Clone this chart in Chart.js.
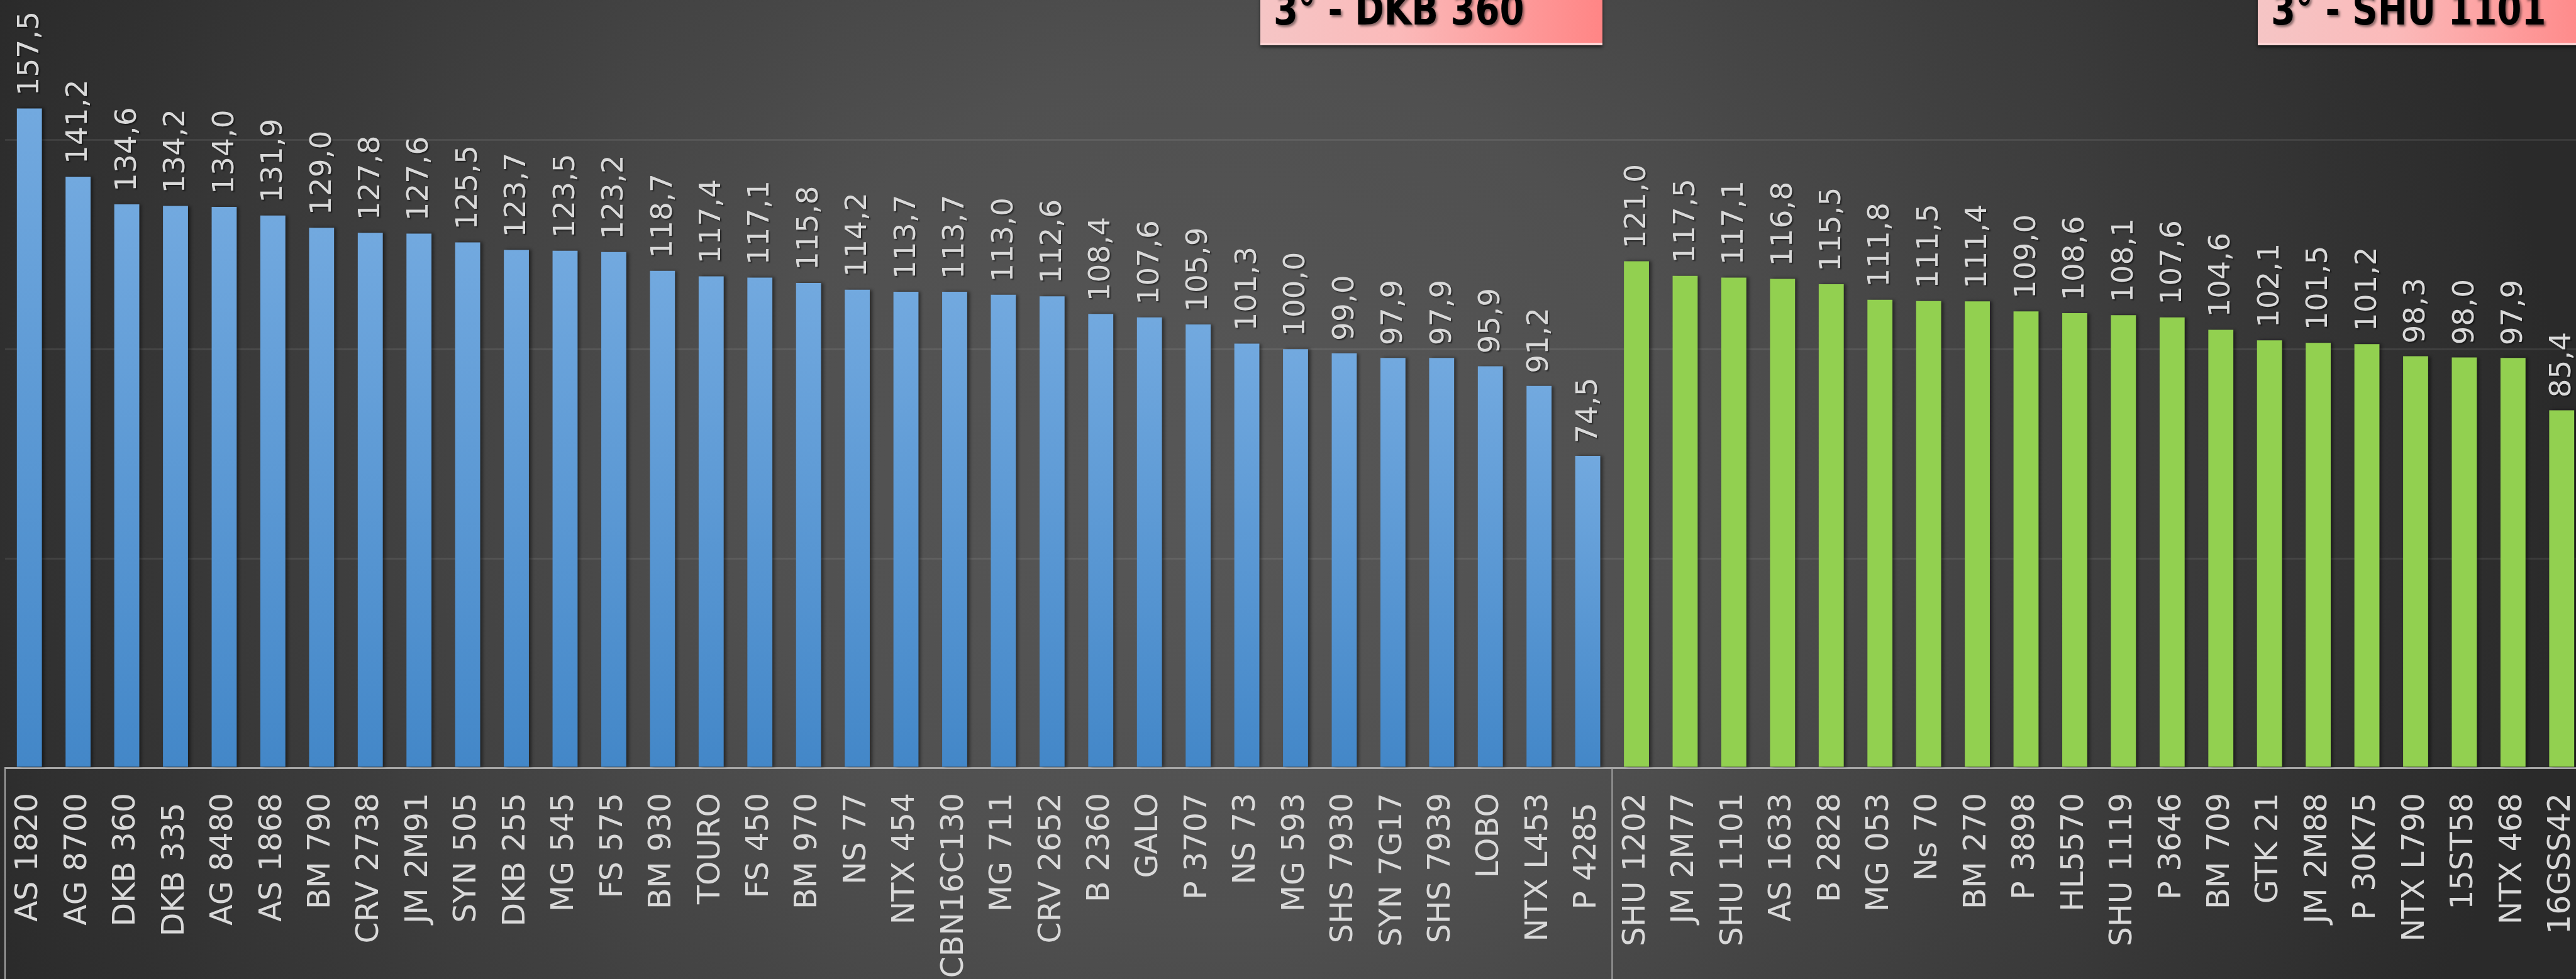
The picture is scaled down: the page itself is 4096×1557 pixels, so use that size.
<!DOCTYPE html>
<html>
<head>
<meta charset="utf-8">
<script src="https://cdn.jsdelivr.net/npm/chart.js@4.4.1/dist/chart.umd.min.js"></script>
<style>
  html, body { margin: 0; padding: 0; width: 4096px; height: 1557px; overflow: hidden; }
  body {
    position: relative;
    background: radial-gradient(ellipse 2134px 1940px at 1940px 776px, #575757 0%, #505050 35%, #2a2a2a 100%);
  }
  #wrap { position: absolute; left: 0; top: 0; width: 4112px; height: 1557px; }
  .tag {
    position: absolute; top: -60px; height: 132px; width: 544px; box-sizing: border-box;
    background: linear-gradient(90deg, #f5c5c5 0%, #fbbaba 40%, #ff8585 100%);
    border-bottom: 4px solid #ffd4d4;
    box-shadow: 0 3px 5px rgba(0,0,0,0.6);
  }
  .tag span {
    position: absolute; left: 21px; top: 40px; white-space: nowrap;
    font-family: "DejaVu Sans Condensed", "DejaVu Sans", sans-serif;
    font-weight: bold; font-size: 70px; line-height: 1; color: #000;
    transform: scaleX(0.89); transform-origin: 0 0;
    text-shadow: 3px 3px 4px rgba(0,0,0,0.45);
  }
</style>
</head>
<body>
<div id="wrap"><canvas id="chart" width="4112" height="1557"></canvas></div>
<div class="tag" style="left:2004px"><span>3° - DKB 360</span></div>
<div class="tag" style="left:3590px"><span>3° - SHU 1101</span></div>
<script>
// hibridos - grupo azul
const blueLabels = ['AS 1820', 'AG 8700', 'DKB 360', 'DKB 335 ', 'AG 8480', 'AS 1868', 'BM 790', 'CRV 2738',
    'JM 2M91', 'SYN 505', 'DKB 255', 'MG 545', 'FS 575', 'BM 930', 'TOURO', 'FS 450', 'BM 970', 'NS 77',
    'NTX 454', 'CBN16C130', 'MG 711', 'CRV 2652', 'B 2360', 'GALO', 'P 3707', 'NS 73', 'MG 593',
    'SHS 7930', 'SYN 7G17', 'SHS 7939', 'LOBO', 'NTX L453', 'P 4285 '];
const blueValues = [157.5, 141.2, 134.6, 134.2, 134.0, 131.9, 129.0, 127.8, 127.6, 125.5, 123.7, 123.5,
    123.2, 118.7, 117.4, 117.1, 115.8, 114.2, 113.7, 113.7, 113.0, 112.6, 108.4, 107.6, 105.9, 101.3,
    100.0, 99.0, 97.9, 97.9, 95.9, 91.2, 74.5];

// grupo verde
const greenLabels = ['SHU 1202', 'JM 2M77', 'SHU 1101', 'AS 1633', 'B 2828', 'MG 053', 'Ns 70', 'BM 270',
    'P 3898', 'HL5570', 'SHU 1119', 'P 3646', 'BM 709', 'GTK 21', 'JM 2M88', 'P 30K75', 'NTX L790',
    '15ST58', 'NTX 468', '16GSS42'];
const greenValues = [121.0, 117.5, 117.1, 116.8, 115.5, 111.8, 111.5, 111.4, 109.0, 108.6, 108.1, 107.6,
    104.6, 102.1, 101.5, 101.2, 98.3, 98.0, 97.9, 85.4];

const yMin = 0;
const yMax = 183.4;
const yStep = 50;

const labels = blueLabels.concat(greenLabels);
const blueData = blueValues.concat(greenLabels.map(() => null));
const greenData = blueLabels.map(() => null).concat(greenValues);

const blueGradient = (context) => {
    const chart = context.chart;
    if (!chart.chartArea || context.raw == null) return '#5b9bd5';
    const y = chart.scales.y;
    const g = chart.ctx.createLinearGradient(0, y.getPixelForValue(context.raw), 0, y.getPixelForValue(0));
    g.addColorStop(0, '#72a9df');
    g.addColorStop(1, '#4387c8');
    return g;
};

const barShadow = {
    id: 'barShadow',
    beforeDatasetsDraw(chart) {
        const ctx = chart.ctx;
        ctx.save();
        ctx.shadowColor = 'rgba(0,0,0,0.45)';
        ctx.shadowOffsetX = 4;
        ctx.shadowOffsetY = 0;
        ctx.shadowBlur = 5;
    },
    afterDatasetsDraw(chart) {
        chart.ctx.restore();
    }
};

const valueLabels = {
    id: 'valueLabels',
    afterDatasetsDraw(chart) {
        const ctx = chart.ctx;
        ctx.save();
        ctx.font = '47px "DejaVu Sans"';
        ctx.fillStyle = '#d9d9d9';
        ctx.textAlign = 'left';
        ctx.textBaseline = 'middle';
        ctx.shadowColor = 'rgba(0,0,0,0.5)';
        ctx.shadowOffsetX = 2;
        ctx.shadowOffsetY = 2;
        ctx.shadowBlur = 2;
        chart.data.datasets.forEach((ds, di) => {
            chart.getDatasetMeta(di).data.forEach((bar, i) => {
                const v = ds.data[i];
                if (v == null) return;
                ctx.save();
                ctx.translate(bar.x + 2, bar.y - 20);
                ctx.rotate(-Math.PI / 2);
                ctx.fillText(v.toFixed(1).replace('.', ','), 0, 0);
                ctx.restore();
            });
        });
        ctx.restore();
    }
};

// linhas verticais que separam os grupos abaixo do eixo
const groupLines = {
    id: 'groupLines',
    afterDraw(chart) {
        const x = chart.scales.x;
        const { ctx, chartArea } = chart;
        const n = blueLabels.length;
        const edges = [chartArea.left, (x.getPixelForTick(n - 1) + x.getPixelForTick(n)) / 2];
        ctx.save();
        ctx.strokeStyle = '#a6a6a6';
        ctx.lineWidth = 2;
        edges.forEach(px => {
            ctx.beginPath();
            ctx.moveTo(px, chartArea.bottom);
            ctx.lineTo(px, chart.height);
            ctx.stroke();
        });
        ctx.restore();
    }
};

new Chart(document.getElementById('chart'), {
    type: 'bar',
    data: {
        labels: labels,
        datasets: [
            { label: 'azul', data: blueData, backgroundColor: blueGradient },
            { label: 'verde', data: greenData, backgroundColor: '#92d050' }
        ]
    },
    options: {
        responsive: false,
        animation: false,
        devicePixelRatio: 1,
        layout: { padding: { left: 8, right: 0, top: 0, bottom: 0 } },
        datasets: { bar: { skipNull: true, categoryPercentage: 1, barPercentage: 0.514 } },
        plugins: { legend: { display: false }, tooltip: { enabled: false } },
        scales: {
            x: {
                grid: { display: false, drawTicks: false },
                border: { color: '#a6a6a6', width: 3 },
                ticks: {
                    color: '#d9d9d9',
                    font: { family: 'DejaVu Sans', size: 49 },
                    minRotation: 90,
                    maxRotation: 90,
                    autoSkip: false,
                    padding: 40
                },
                afterFit: (s) => {
                    s.height = 336;
                    s.paddingLeft = 0;
                    s.paddingRight = 0;
                }
            },
            y: {
                min: yMin,
                max: yMax,
                grid: { color: 'rgba(255,255,255,0.08)', lineWidth: 3, drawTicks: false },
                border: { display: false },
                ticks: { display: false, stepSize: yStep },
                afterBuildTicks: (s) => { s.ticks = s.ticks.filter(t => t.value % yStep === 0); },
                afterFit: (s) => { s.width = 0; }
            }
        }
    },
    plugins: [barShadow, valueLabels, groupLines]
});
</script>
</body>
</html>
